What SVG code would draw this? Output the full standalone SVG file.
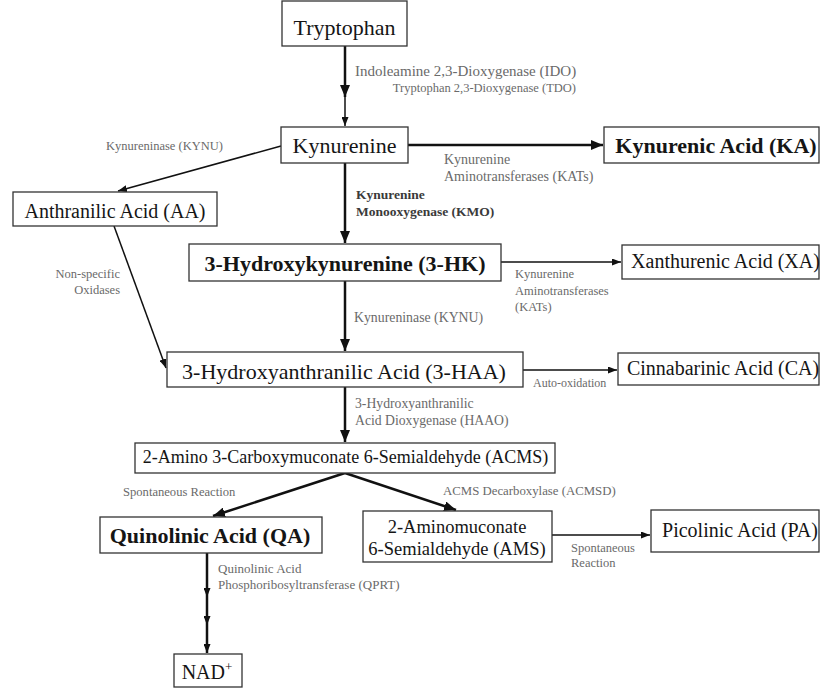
<svg xmlns="http://www.w3.org/2000/svg" width="821" height="688" viewBox="0 0 821 688">
<style>
.box{fill:#fff;stroke:#333;stroke-width:1.3}
.nt{font-family:"Liberation Serif","Times New Roman",serif;fill:#151515;text-anchor:middle}
.b{font-weight:bold}
.lb{font-family:"Liberation Serif","Times New Roman",serif;fill:#6a6a6a}
.lbb{font-family:"Liberation Serif","Times New Roman",serif;fill:#3a3a3a;font-weight:bold}
.thick{stroke:#111;stroke-width:2.5;fill:none}
.thin{stroke:#111;stroke-width:1.5;fill:none}
</style>
<defs>
<marker id="big" viewBox="0 0 12 10" refX="12" refY="5" markerWidth="12" markerHeight="10" markerUnits="userSpaceOnUse" orient="auto"><path d="M0,0 L12,5 L0,10 z" fill="#111"/></marker>
<marker id="sm" viewBox="0 0 9 7" refX="9" refY="3.5" markerWidth="9" markerHeight="7" markerUnits="userSpaceOnUse" orient="auto"><path d="M0,0 L9,3.5 L0,7 z" fill="#111"/></marker>
</defs>
<rect width="821" height="688" fill="#fff"/>

<g id="connectors">
<path class="thick" d="M345,46 L345,97" marker-end="url(#big)"/>
<path class="thin" d="M345,97 L345,126" marker-end="url(#sm)"/>
<path class="thick" d="M345,163 L345,243" marker-end="url(#big)"/>
<path class="thick" d="M408,145 L603,145" marker-end="url(#big)"/>
<path class="thin" d="M281,146 L118,191" marker-end="url(#sm)"/>
<path class="thin" d="M114,226 L166,368" marker-end="url(#sm)"/>
<path class="thin" d="M501,262 L621,262" marker-end="url(#sm)"/>
<path class="thick" d="M345,281 L345,351" marker-end="url(#big)"/>
<path class="thin" d="M523,370 L617,370" marker-end="url(#sm)"/>
<path class="thick" d="M345,387 L345,442" marker-end="url(#big)"/>
<path class="thick" d="M345,473 L213,516" marker-end="url(#big)"/>
<path class="thick" d="M345,473 L456,510" stroke-width="2" marker-end="url(#big)"/>
<path class="thin" d="M552,535 L650,535" marker-end="url(#sm)"/>
<path class="thick" d="M207,553 L207,597 L207,625 L207,653" stroke-width="2" marker-mid="url(#sm)" marker-end="url(#sm)"/>
</g>

<g id="labels">
<text class="lb" x="355" y="76" font-size="15">Indoleamine 2,3-Dioxygenase (IDO)</text>
<text class="lb" x="576" y="92" font-size="12.5" text-anchor="end">Tryptophan 2,3-Dioxygenase (TDO)</text>
<text class="lb" x="106" y="150" font-size="12.5">Kynureninase (KYNU)</text>
<text class="lbb" x="356" y="199" font-size="13.5">Kynurenine</text>
<text class="lbb" x="356" y="216" font-size="13.5">Monooxygenase (KMO)</text>
<text class="lb" x="444" y="164" font-size="14">Kynurenine</text>
<text class="lb" x="444" y="181" font-size="14">Aminotransferases (KATs)</text>
<text class="lb" x="515" y="278" font-size="12.5">Kynurenine</text>
<text class="lb" x="515" y="295" font-size="12.5">Aminotransferases</text>
<text class="lb" x="515" y="311" font-size="12.5">(KATs)</text>
<text class="lb" x="120" y="278" font-size="12.5" text-anchor="end">Non-specific</text>
<text class="lb" x="120" y="294" font-size="12.5" text-anchor="end">Oxidases</text>
<text class="lb" x="354" y="322" font-size="13.8">Kynureninase (KYNU)</text>
<text class="lb" x="533" y="387" font-size="12">Auto-oxidation</text>
<text class="lb" x="355" y="408" font-size="13.7">3-Hydroxyanthranilic</text>
<text class="lb" x="355" y="425" font-size="13.7">Acid Dioxygenase (HAAO)</text>
<text class="lb" x="123" y="496" font-size="12.6">Spontaneous Reaction</text>
<text class="lb" x="443" y="495" font-size="12.8">ACMS Decarboxylase (ACMSD)</text>
<text class="lb" x="571" y="552" font-size="12.5">Spontaneous</text>
<text class="lb" x="571" y="567" font-size="12.5">Reaction</text>
<text class="lb" x="218" y="573" font-size="13">Quinolinic Acid</text>
<text class="lb" x="218" y="589" font-size="13">Phosphoribosyltransferase (QPRT)</text>
</g>

<g id="tryptophan"><rect class="box" x="282" y="1" width="125" height="45"/><text class="nt" x="344.5" y="35" font-size="22">Tryptophan</text></g>
<g id="kynurenine"><rect class="box" x="281" y="127" width="127" height="36"/><text class="nt" x="344.5" y="153" font-size="22">Kynurenine</text></g>
<g id="ka"><rect class="box" x="604" y="127" width="215" height="36"/><text class="nt b" x="716" y="153" font-size="22">Kynurenic Acid (KA)</text></g>
<g id="aa"><rect class="box" x="13" y="192" width="204" height="34"/><text class="nt" x="115" y="218" font-size="20">Anthranilic Acid (AA)</text></g>
<g id="hk"><rect class="box" x="189" y="244" width="312" height="37"/><text class="nt b" x="345" y="271" font-size="22">3-Hydroxykynurenine (3-HK)</text></g>
<g id="xa"><rect class="box" x="622" y="245" width="197" height="34"/><text class="nt" x="725.5" y="268" font-size="20">Xanthurenic Acid (XA)</text></g>
<g id="haa"><rect class="box" x="167" y="352" width="356" height="35"/><text class="nt" x="344" y="379" font-size="22">3-Hydroxyanthranilic Acid (3-HAA)</text></g>
<g id="ca"><rect class="box" x="618" y="353" width="201" height="32"/><text class="nt" x="723" y="375" font-size="20">Cinnabarinic Acid (CA)</text></g>
<g id="acms"><rect class="box" x="135" y="443" width="420" height="30"/><text class="nt" x="345.5" y="463" font-size="18">2-Amino 3-Carboxymuconate 6-Semialdehyde (ACMS)</text></g>
<g id="qa"><rect class="box" x="100" y="517" width="222" height="36"/><text class="nt b" x="210" y="543" font-size="22">Quinolinic Acid (QA)</text></g>
<g id="ams"><rect class="box" x="363" y="511" width="189" height="51"/><text class="nt" x="457" y="533" font-size="18.5">2-Aminomuconate</text><text class="nt" x="457" y="555" font-size="18.5">6-Semialdehyde (AMS)</text></g>
<g id="pa"><rect class="box" x="651" y="510" width="168" height="42"/><text class="nt" x="740" y="537" font-size="20">Picolinic Acid (PA)</text></g>
<g id="nad"><rect class="box" x="174" y="654" width="68" height="33"/><text class="nt" x="207" y="679" font-size="20">NAD<tspan font-size="13" dy="-8">+</tspan></text></g>
</svg>
